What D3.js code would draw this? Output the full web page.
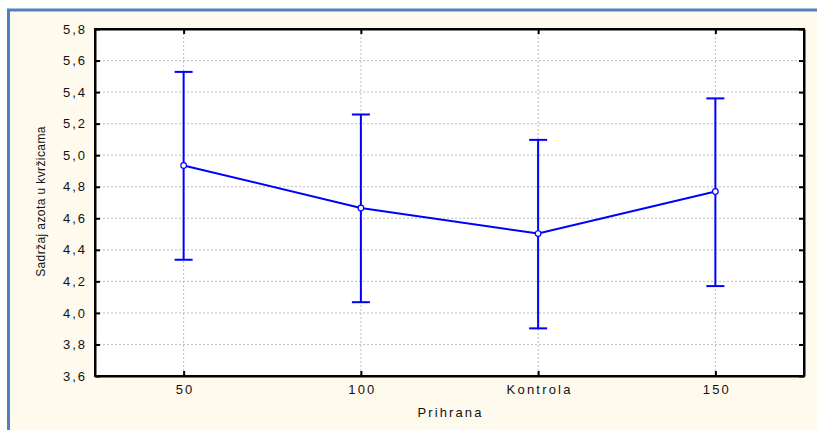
<!DOCTYPE html>
<html>
<head>
<meta charset="utf-8">
<script src="https://cdn.jsdelivr.net/npm/d3@7"></script>
<style>
  body { margin: 0; background: #fff; }
  svg text { font-family: Arial, "Liberation Sans", sans-serif; fill: #111; }
</style>
</head>
<body>
<div id="chart"></div>
<script>
const categories = ['50', '100', 'Kontrola', '150'];
const means = [4.935, 4.665, 4.503, 4.770];
const lower = [4.337, 4.068, 3.902, 4.170];
const upper = [5.528, 5.258, 5.097, 5.360];
const yTicks = [3.6, 3.8, 4.0, 4.2, 4.4, 4.6, 4.8, 5.0, 5.2, 5.4, 5.6, 5.8];

const width = 817;
const height = 430;
const margin = { top: 29, right: 13, bottom: 54, left: 95 };

const svg = d3.select('#chart')
    .append('svg')
    .attr('width', width)
    .attr('height', height);

// outer frame
svg.append('rect')
    .attr('x', 8.5)
    .attr('y', 10)
    .attr('width', 812)
    .attr('height', 430)
    .attr('fill', '#fffaee')
    .attr('stroke', '#4f81bd')
    .attr('stroke-width', 3);

const x = d3.scalePoint(categories, [margin.left, width - margin.right]).padding(0.5);
const y = d3.scaleLinear([3.6, 5.8], [height - margin.bottom, margin.top]);

const plotW = width - margin.left - margin.right;
const plotH = height - margin.top - margin.bottom;

svg.append('rect')
    .attr('x', margin.left)
    .attr('y', margin.top)
    .attr('width', plotW)
    .attr('height', plotH)
    .attr('fill', '#fff');

// grid
svg.append('g')
    .selectAll('line')
    .data(yTicks.slice(1, -1))
    .join('line')
    .attr('x1', margin.left)
    .attr('x2', width - margin.right)
    .attr('y1', d => y(d))
    .attr('y2', d => y(d))
    .attr('stroke', '#bdbdbd')
    .attr('stroke-dasharray', '2,2');

svg.append('g')
    .selectAll('line')
    .data(categories)
    .join('line')
    .attr('x1', d => x(d))
    .attr('x2', d => x(d))
    .attr('y1', margin.top)
    .attr('y2', height - margin.bottom)
    .attr('stroke', '#bdbdbd')
    .attr('stroke-dasharray', '2,2');

// axes (ticks pointing inward)
const fmt = d => d3.format('.1f')(d).replace('.', ',');

const yAxis = svg.append('g')
    .attr('transform', `translate(${margin.left},0)`)
    .call(d3.axisLeft(y).tickValues(yTicks).tickFormat(fmt).tickSizeInner(-5).tickSizeOuter(0).tickPadding(8));
yAxis.selectAll('text').attr('font-size', 13).attr('letter-spacing', 2);

const yAxisR = svg.append('g')
    .attr('transform', `translate(${width - margin.right},0)`)
    .call(d3.axisRight(y).tickValues(yTicks).tickFormat('').tickSizeInner(-5).tickSizeOuter(0));

const xAxis = svg.append('g')
    .attr('transform', `translate(0,${height - margin.bottom})`)
    .call(d3.axisBottom(x).tickSizeInner(-5).tickSizeOuter(0).tickPadding(9));
xAxis.selectAll('text').attr('font-size', 13).attr('letter-spacing', 2.2).attr('dx', '1px');

const xAxisT = svg.append('g')
    .attr('transform', `translate(0,${margin.top})`)
    .call(d3.axisTop(x).tickFormat('').tickSizeInner(-5).tickSizeOuter(0));

[yAxis, yAxisR, xAxis, xAxisT].forEach(g => {
  g.select('.domain').attr('stroke', '#000').attr('stroke-width', 2);
  g.selectAll('.tick line').attr('stroke', '#000').attr('stroke-width', 2);
});

// plot border corners
svg.append('rect')
    .attr('x', margin.left)
    .attr('y', margin.top)
    .attr('width', plotW)
    .attr('height', plotH)
    .attr('fill', 'none')
    .attr('stroke', '#000')
    .attr('stroke-width', 2);

// axis titles
svg.append('text')
    .text('Prihrana')
    .attr('x', margin.left + plotW / 2 + 1)
    .attr('y', 417)
    .attr('text-anchor', 'middle')
    .attr('font-size', 13)
    .attr('letter-spacing', 2.1);

svg.append('text')
    .text('Sadržaj azota u kvržicama')
    .attr('transform', `translate(45,${margin.top + plotH / 2 - 1}) rotate(-90)`)
    .attr('text-anchor', 'middle')
    .attr('font-size', 12)
    .attr('letter-spacing', 0.4);

// error bars
const blue = '#0000ff';
const capHalf = 9;
const bars = svg.append('g').attr('stroke', blue).attr('stroke-width', 2);

bars.selectAll('.whisker')
    .data(categories)
    .join('line')
    .attr('x1', d => x(d))
    .attr('x2', d => x(d))
    .attr('y1', (d, i) => y(lower[i]))
    .attr('y2', (d, i) => y(upper[i]));

bars.selectAll('.capTop')
    .data(categories)
    .join('line')
    .attr('class', 'capTop')
    .attr('x1', d => x(d) - capHalf)
    .attr('x2', d => x(d) + capHalf)
    .attr('y1', (d, i) => y(upper[i]))
    .attr('y2', (d, i) => y(upper[i]));

bars.selectAll('.capBot')
    .data(categories)
    .join('line')
    .attr('class', 'capBot')
    .attr('x1', d => x(d) - capHalf)
    .attr('x2', d => x(d) + capHalf)
    .attr('y1', (d, i) => y(lower[i]))
    .attr('y2', (d, i) => y(lower[i]));

// mean line
const line = d3.line()
    .x((d, i) => x(categories[i]))
    .y(d => y(d));

svg.append('path')
    .datum(means)
    .attr('d', line)
    .attr('fill', 'none')
    .attr('stroke', blue)
    .attr('stroke-width', 2);

svg.append('g')
    .selectAll('circle')
    .data(means)
    .join('circle')
    .attr('cx', (d, i) => x(categories[i]))
    .attr('cy', d => y(d))
    .attr('r', 2.8)
    .attr('fill', '#fff')
    .attr('stroke', blue)
    .attr('stroke-width', 1.2);
</script>
</body>
</html>
